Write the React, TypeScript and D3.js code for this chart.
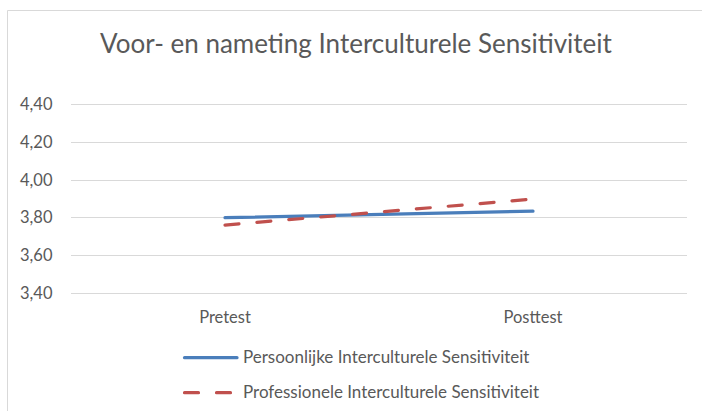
import React, { useRef, useEffect } from 'react';
import * as d3 from 'd3';

const title = 'Voor- en nameting Interculturele Sensitiviteit';
const categories = ['Pretest', 'Posttest'];
const persoonlijk = [3.798, 3.833];
const professioneel = [3.759, 3.897];
const yTicks = [3.4, 3.6, 3.8, 4.0, 4.2, 4.4];
const seriesNames = [
  'Persoonlijke Interculturele Sensitiviteit',
  'Professionele Interculturele Sensitiviteit',
];

const W = 703;
const H = 411;
const FONT = 'Lato, "Open Sans", sans-serif';
const TEXT = '#595959';

function App() {
  const ref = useRef<SVGSVGElement>(null);

  useEffect(() => {
    const svg = d3.select(ref.current);
    svg.selectAll('*').remove();

    const plot = { left: 71, right: 687, top: 104.3, bottom: 292.7 };

    // chart border (only top and left visible in frame)
    svg.append('path')
      .attr('d', `M7.5,${H + 2}V10.5H702`)
      .attr('fill', 'none')
      .attr('stroke', '#d9d9d9')
      .attr('stroke-width', 1);

    svg.append('text')
      .attr('x', 356)
      .attr('y', 52.5)
      .attr('text-anchor', 'middle')
      .attr('font-family', FONT)
      .attr('font-size', 26)
      .attr('fill', TEXT)
      .text(title);

    const x = d3.scaleBand<string>().domain(categories).range([plot.left, plot.right]);
    const y = d3.scaleLinear().domain([3.4, 4.4]).range([plot.bottom, plot.top]);
    const fmt = (v: number) => d3.format('.2f')(v).replace('.', ',');

    const grid = svg.append('g');
    grid.selectAll('line')
      .data(yTicks)
      .enter().append('line')
      .attr('x1', plot.left)
      .attr('x2', plot.right)
      .attr('y1', (d) => Math.round(y(d)) + 0.5)
      .attr('y2', (d) => Math.round(y(d)) + 0.5)
      .attr('stroke', '#d9d9d9')
      .attr('stroke-width', 1);

    svg.append('g').selectAll('text')
      .data(yTicks)
      .enter().append('text')
      .attr('x', 52.5)
      .attr('y', (d) => y(d) + 6)
      .attr('text-anchor', 'end')
      .attr('font-family', FONT)
      .attr('font-size', 16.5)
      .attr('fill', TEXT)
      .text(fmt);

    svg.append('g').selectAll('text')
      .data(categories)
      .enter().append('text')
      .attr('x', (d) => (x(d) as number) + x.bandwidth() / 2)
      .attr('y', 323.3)
      .attr('text-anchor', 'middle')
      .attr('font-family', FONT)
      .attr('font-size', 16.5)
      .attr('fill', TEXT)
      .text((d) => d);

    const line = d3.line<number>()
      .x((_, i) => (x(categories[i]) as number) + x.bandwidth() / 2)
      .y((d) => y(d));

    const series = [
      { values: persoonlijk, color: '#4a7ebb', dash: null },
      { values: professioneel, color: '#c0504d', dash: '14,18' },
    ];

    series.forEach((s) => {
      svg.append('path')
        .attr('d', line(s.values))
        .attr('fill', 'none')
        .attr('stroke', s.color)
        .attr('stroke-width', 3.2)
        .attr('stroke-linecap', 'round')
        .attr('stroke-dasharray', s.dash);
    });

    // legend
    const legend = svg.append('g');
    series.forEach((s, i) => {
      const ly = 357.7 + i * 35;
      legend.append('line')
        .attr('x1', 184.5)
        .attr('x2', i === 0 ? 237 : 232)
        .attr('y1', ly)
        .attr('y2', ly)
        .attr('stroke', s.color)
        .attr('stroke-width', 3.2)
        .attr('stroke-linecap', 'round')
        .attr('stroke-dasharray', s.dash);
      legend.append('text')
        .attr('x', 243)
        .attr('y', ly + 5.6)
        .attr('font-family', FONT)
        .attr('font-size', 17)
        .attr('fill', TEXT)
        .text(seriesNames[i]);
    });
  }, []);

  return (
    <svg
      ref={ref}
      width={W}
      height={H}
      style={{ position: 'absolute', left: 0, top: 0, background: '#fff' }}
    />
  );
}

export default App;
